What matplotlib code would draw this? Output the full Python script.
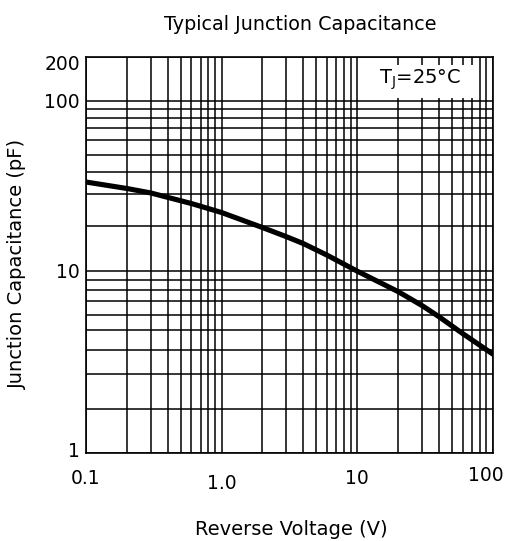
import numpy as np
import matplotlib
matplotlib.use("Agg")
import matplotlib.pyplot as plt
from matplotlib.patches import Rectangle
from matplotlib.ticker import FixedLocator, NullFormatter
import matplotlib.transforms as mtransforms

# Curve
voltage = [0.1, 0.2, 0.3, 0.6, 1.0, 2, 3, 4, 6, 10, 20, 30, 40, 60, 100]
capacitance = [35.1, 32.3, 30.5, 26.6, 23.7, 19.45, 16.9, 15.2, 12.7,
               9.95, 7.85, 6.68, 5.87, 4.82, 3.8]

x_ticks = [0.1, 1, 10, 100]
x_ticklabels = ["0.1", "1.0", "10", "100"]
y_ticks = [1, 10, 100, 200]
y_ticklabels = ["1", "10", "100", "200"]

# the printed log paper is not evenly ruled: calibrate the y axis on it
# (value -> fraction of the axis height)
paper_vals = [1, 2, 10, 20, 100, 200]
paper_frac = [0.0, 0.1104, 0.4604, 0.5740, 0.8896, 1.0]
_lv = np.log10(paper_vals)


def paper_fwd(v):
    v = np.maximum(np.asarray(v, dtype=float), 1e-12)
    return np.interp(np.log10(v), _lv, paper_frac)


def paper_inv(u):
    return 10 ** np.interp(np.asarray(u, dtype=float), paper_frac, _lv)


plt.rcParams['font.family'] = ['DejaVu Sans']

fig = plt.figure(figsize=(5.09, 5.41), dpi=100)
ax = fig.add_axes([86 / 509, 88 / 541, 406.7 / 509, 396 / 541])

ax.set_xscale('log')
ax.set_yscale('function', functions=(paper_fwd, paper_inv))
ax.set_xlim(0.1, 100)
ax.set_ylim(1, 200)

x_minor = [m * 10.0 ** e for e in (-1, 0, 1) for m in range(2, 10)]
y_minor = [m * 10.0 ** e for e in (0, 1) for m in range(2, 10)]

ax.xaxis.set_major_locator(FixedLocator(x_ticks))
ax.xaxis.set_minor_locator(FixedLocator(x_minor))
ax.yaxis.set_major_locator(FixedLocator(y_ticks))
ax.yaxis.set_minor_locator(FixedLocator(y_minor))
ax.set_xticklabels(x_ticklabels)
ax.set_yticklabels(y_ticklabels)
ax.xaxis.set_minor_formatter(NullFormatter())
ax.yaxis.set_minor_formatter(NullFormatter())

ax.grid(True, which='both', color='black', linewidth=1.1)
ax.tick_params(which='both', length=0)
ax.tick_params(axis='x', pad=11.5, labelsize=13.5)
ax.tick_params(axis='y', pad=4.3, labelsize=13.5)
for s in ax.spines.values():
    s.set_linewidth(1.2)

ax.plot(voltage, capacitance, color='black', linewidth=3.7,
        solid_capstyle='round', solid_joinstyle='round', zorder=3)

# white patch behind the temperature note
ax.add_patch(Rectangle((0.716, 0.896), 0.245, 0.084, transform=ax.transAxes,
                       facecolor='white', edgecolor='none', zorder=2.5))
ax.text(0.822, 0.942, r'T$_\mathregular{J}$=25°C', transform=ax.transAxes,
        ha='center', va='center', fontsize=14, zorder=4)


# small nudges of individual tick labels, as on the original sheet
def nudge(label, dx, dy):
    off = mtransforms.ScaledTranslation(dx / 72, dy / 72, fig.dpi_scale_trans)
    label.set_transform(label.get_transform() + off)


xl = ax.get_xticklabels()
yl = ax.get_yticklabels()
nudge(xl[1], 0, -3.6)
nudge(xl[3], -5, 2.2)
nudge(yl[0], 0, 2.5)
nudge(yl[3], 0, -3.6)

fig.text(300 / 509, 1 - 29.5 / 541, 'Typical Junction Capacitance',
         ha='center', va='baseline', fontsize=13.8)
fig.text(291 / 509, 1 - 535 / 541, 'Reverse Voltage (V)',
         ha='center', va='baseline', fontsize=14)
fig.text(17.5 / 509, 1 - 264 / 541, 'Junction Capacitance (pF)',
         ha='center', va='center', rotation=90, fontsize=14)

fig.savefig('out.png', dpi=100)
